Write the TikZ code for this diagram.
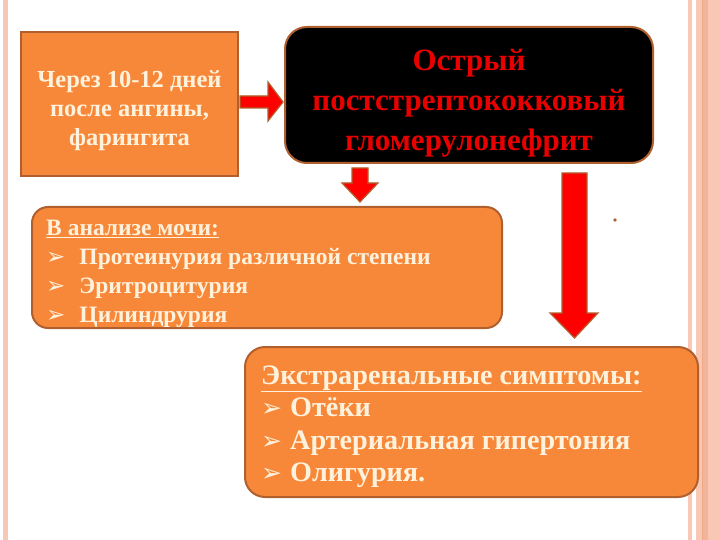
\documentclass[tikz,border=0pt]{standalone}
\usepackage{fontspec}
\setmainfont{Liberation Serif}
\newfontfamily\dejavu{DejaVu Sans}
\definecolor{orfill}{HTML}{F7883A}
\definecolor{brd}{HTML}{B0602E}
\definecolor{cream}{HTML}{FFF2DC}
\definecolor{redtxt}{HTML}{E80000}
\definecolor{stripe}{HTML}{F9C8B4}
\definecolor{stripedk}{HTML}{EDA888}
\newcommand{\bul}{{\dejavu\fontsize{23}{23}\selectfont ➢}}
\newcommand{\bulb}{{\dejavu\fontsize{25}{25}\selectfont ➢}}
\begin{document}
\begin{tikzpicture}[x=1pt,y=-1pt,
  box/.style={draw=brd,line width=2pt,fill=orfill},
  txt/.style={text=cream,font=\bfseries,inner sep=0pt},
  blockarrow/.style={draw=brd,line width=1.2pt,fill=red,line join=miter}]
\useasboundingbox (0,0) rectangle (720,540);
% decorative stripes
\fill[stripe] (3,0) rectangle (8,540);
\fill[stripe] (688,0) rectangle (692,540);
\fill[stripe] (696,0) rectangle (720,540);
\fill[stripedk!60!stripe] (703,0) rectangle (708,540);
\draw[stripedk,line width=0.8pt] (702,0) -- (702,540);
% boxes
\node[box,minimum width=217pt,minimum height=144pt] (b1) at (129.5,104) {};
\node[box,fill=black,rounded corners=22pt,minimum width=368pt,minimum height=136pt] (b2) at (469,95) {};
\node[box,rounded corners=16pt,minimum width=470pt,minimum height=121pt] (b3) at (267,267.5) {};
\node[box,rounded corners=20pt,minimum width=453pt,minimum height=150pt] (b4) at (471.5,422) {};
% texts
\node[txt,align=center,font=\bfseries\fontsize{24.5}{29}\selectfont] (t1) at (129.5,110.5)
  {Через 10-12 дней\\после ангины,\\фарингита};
\node[txt,align=center,text=redtxt,font=\bfseries\fontsize{31}{40}\selectfont] (t2) at (469,103.5)
  {Острый\\пост\-стрептококковый\\гломерулонефрит};
\node[txt,align=left,anchor=west,font=\bfseries\fontsize{23.5}{29}\selectfont] (t3) at (46,274)
  {\underline{В анализе мочи:}\\
   \bul\hspace{14pt}Протеинурия различной степени\\
   \bul\hspace{14pt}Эритроцитурия\\
   \bul\hspace{14pt}Цилиндрурия};
\node[txt,align=left,anchor=west,font=\bfseries\fontsize{28.2}{32.5}\selectfont] (t4) at (261,426.5)
  {\underline{Экстраренальные симптомы:}\\
   \bulb\hspace{8pt}Отёки\\
   \bulb\hspace{8pt}Артериальная гипертония\\
   \bulb\hspace{8pt}Олигурия.};
% arrow b1 -> b2
\coordinate (a1) at (240,102);
\draw[blockarrow] (a1) ++(0,-6) -- ++(28,0) -- ++(0,-14) -- (283,102) -- (268,121) -- ++(0,-13) -- (240,108) -- cycle;
% arrow b2 -> b3
\coordinate (a2) at (360,168);
\draw[blockarrow] (a2) ++(-8,0) -- ++(16,0) -- ++(0,15) -- (378,183) -- (360,202) -- (342,183) -- (352,183) -- cycle;
% arrow b2 -> b4
\coordinate (a3) at (574.5,173);
\draw[blockarrow] (a3) ++(-12.5,0) -- ++(25,0) -- (587,313) -- (598,313) -- (574.5,338) -- (550,313) -- (562,313) -- cycle;
% dot
\fill[brd] (615,220) circle (1.8pt);
\end{tikzpicture}
\end{document}
